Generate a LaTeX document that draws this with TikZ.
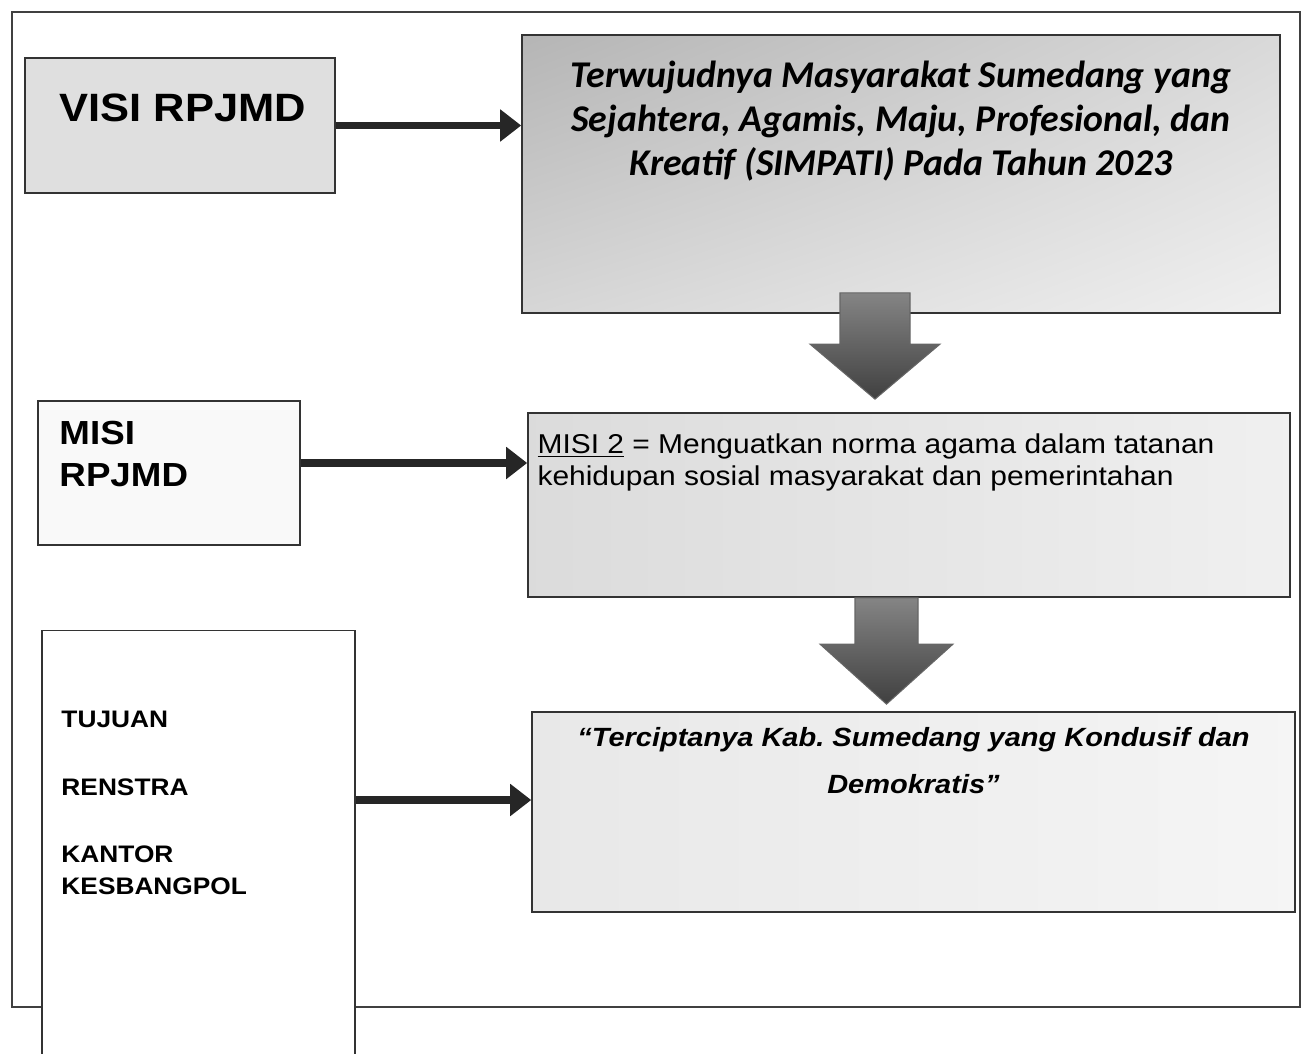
\documentclass[tikz,border=0pt]{standalone}
\usepackage{fontspec}
\setmainfont[FakeStretch=1.1]{Liberation Sans}
\newfontfamily\calibri{Carlito}
\usetikzlibrary{positioning,calc,arrows.meta,shadings}
\frenchspacing
\tikzset{
    frame/.style={draw=black!75, line width=0.8pt},
    panel/.style={rectangle, draw=black!80, line width=1pt, inner sep=0pt},
    txt/.style={inner sep=0pt, align=left},
    link/.style={draw=black!85, line width=4pt, -{Triangle[length=0.42cm, width=0.62cm]}},
    blockarrow/.style={top color=black!48, bottom color=black!75, draw=black!60, line width=0.6pt},
}
\begin{document}
\begin{tikzpicture}[x=0.02cm, y=-0.02cm]
    \useasboundingbox (0,0) rectangle (1308,1054);
    \draw[frame] (12,12) rectangle (1300,1007);

    % left column
    \node[panel, fill=gray!25, minimum width=6.2cm, minimum height=2.7cm] (visi) at (180,125.5) {};
    \node[panel, fill=gray!5, minimum width=5.24cm, minimum height=2.88cm] (misi) at (169,473) {};
    \node[panel, fill=white, minimum width=6.26cm, minimum height=8.5cm] (tujuan) at (198.5,843) {};

    % right column
    \node[panel, upper left=gray!58, upper right=gray!30, lower left=gray!32, lower right=gray!12, minimum width=15.16cm, minimum height=5.56cm] (vision) at (901,174) {};
    \node[panel, left color=gray!28, right color=gray!12, minimum width=15.24cm, minimum height=3.68cm] (mission) at (909,505) {};
    \node[panel, left color=gray!18, right color=gray!8, minimum width=15.26cm, minimum height=4cm] (goal) at (913.5,812) {};

    % texts
    \node[txt, font=\fontsize{22.5}{26}\selectfont\bfseries, below right=0.72cm and 0.7cm of visi.north west] (visi-t) {VISI RPJMD};
    \node[txt, font=\fontsize{19}{24}\selectfont\bfseries, below right=0.42cm and 0.44cm of misi.north west] (misi-t) {MISI\\RPJMD};
    \node[txt, font=\fontsize{13.6}{18}\selectfont\bfseries, below right=1.62cm and 0.4cm of tujuan.north west] (tujuan-t) {TUJUAN\\[20.5pt]RENSTRA\\[20.5pt]KANTOR\\KESBANGPOL};
    \node[txt, align=center, font=\calibri\fontsize{21.5}{25}\selectfont\bfseries\itshape, below=0.54cm of vision.north] (vision-t) {Terwujudnya Masyarakat Sumedang yang\\Sejahtera, Agamis, Maju, Profesional, dan\\Kreatif (SIMPATI) Pada Tahun 2023};
    \node[txt, font=\fontsize{15.5}{18.1}\selectfont, below right=0.42cm and 0.2cm of mission.north west] (mission-t) {\underline{MISI 2} = Menguatkan norma agama dalam tatanan\\kehidupan sosial masyarakat dan pemerintahan};
    \node[txt, align=center, font=\fontsize{15}{26.6}\selectfont\bfseries\itshape, below=0.32cm of goal.north] (goal-t) {``Terciptanya Kab. Sumedang yang Kondusif dan\\Demokratis''};

    % connectors
    \draw[link] (visi.east) -- (visi.east -| vision.west);
    \draw[link] ([yshift=0.2cm]misi.east) -- ([yshift=0.2cm]misi.east -| mission.west);
    \draw[link] ([yshift=0.24cm]goal.west -| tujuan.east) -- ([yshift=0.24cm]goal.west);

    \coordinate (d1top) at ([shift={(-26,-21)}]vision.south);
    \coordinate (d1tip) at ($(d1top |- mission.north)+(0,-13)$);
    \shade[blockarrow] ($(d1top)+(-35,0)$) -- ($(d1top)+(35,0)$) -- ($(d1tip)+(35,-55)$) -- ($(d1tip)+(65,-55)$) -- (d1tip) -- ($(d1tip)+(-65,-55)$) -- ($(d1tip)+(-35,-55)$) -- cycle;

    \coordinate (d2top) at ([shift={(-22.5,0)}]mission.south);
    \coordinate (d2tip) at ($(d2top |- goal.north)+(0,-7)$);
    \shade[blockarrow] ($(d2top)+(-31.5,0)$) -- ($(d2top)+(31.5,0)$) -- ($(d2tip)+(31.5,-60)$) -- ($(d2tip)+(66.5,-60)$) -- (d2tip) -- ($(d2tip)+(-66.5,-60)$) -- ($(d2tip)+(-31.5,-60)$) -- cycle;
\end{tikzpicture}
\end{document}
